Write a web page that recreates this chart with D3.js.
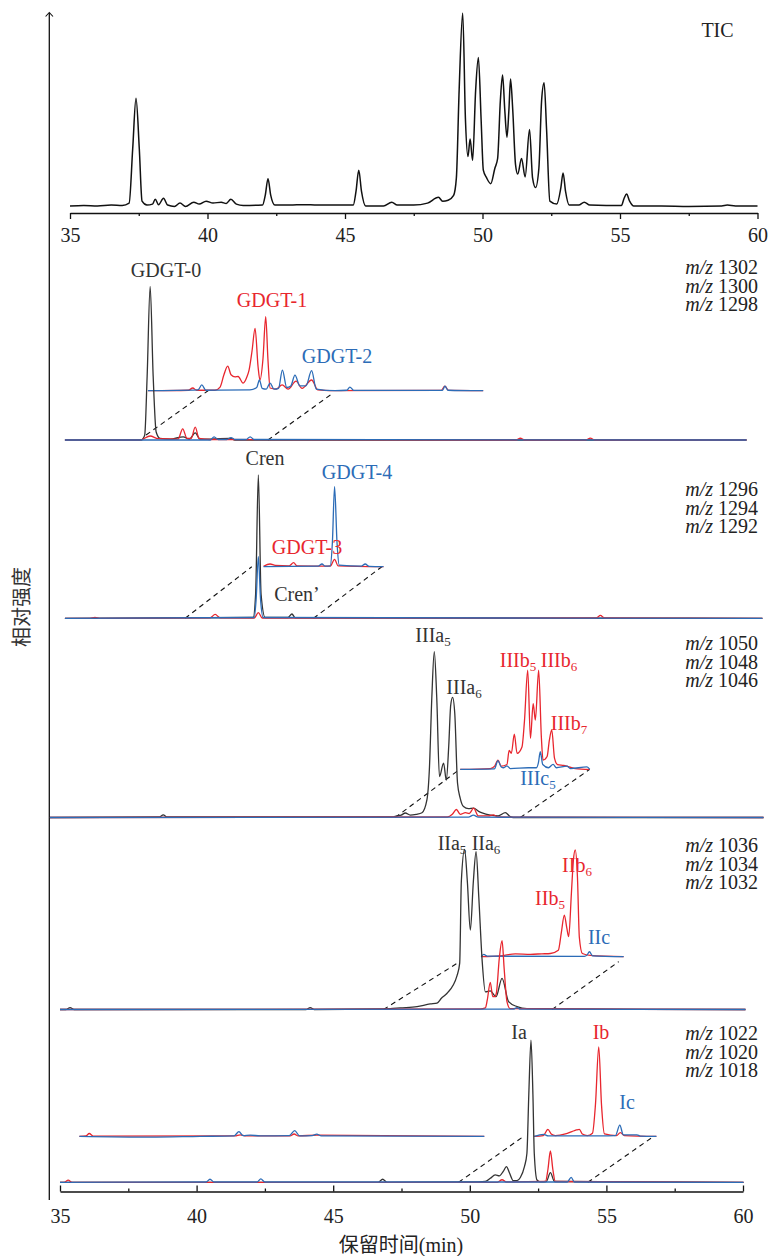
<!DOCTYPE html>
<html>
<head>
<meta charset="utf-8">
<script src="https://cdn.jsdelivr.net/npm/d3@7"></script>
<style>
  html, body { margin: 0; padding: 0; background: #fff; }
  svg { display: block; font-family: "Liberation Serif", "Times New Roman", serif; }
  text { font-family: "Liberation Serif", "Times New Roman", "Noto Sans CJK SC", serif; fill: #222; }
</style>
</head>
<body>
<div id="chart"></div>
<script>
// ---- data: [retention time (min), relative intensity] ----
const majorTicks = [35, 40, 45, 50, 55, 60];
const minorTicks = [37.5, 42.5, 47.5, 52.5, 57.5];

const tic = [
  [35.0,0.5],[35.5,0.8],[36.0,0.5],[36.5,1],[36.9,0.8],[37.15,2],[37.28,30],[37.4,56],[37.52,30],[37.62,3],
  [37.8,1],[38.0,1.5],[38.1,4],[38.22,1.2],[38.4,4.5],[38.55,1],[38.8,0.3],[39.0,2],[39.2,0.3],[39.5,2.5],
  [39.7,1.5],[39.95,3],[40.2,2],[40.5,2.5],[40.68,1.8],[40.85,4],[41.05,1.5],[41.3,0.8],[42.0,1],[42.1,6],
  [42.2,14.5],[42.3,6],[42.45,1],[43.0,1],[43.5,1.2],[44.0,1],[45.3,1],[45.4,8],[45.5,19],[45.6,8],
  [45.75,0.5],[46.4,0.5],[46.7,2.5],[46.9,1],[47.5,1],[48.0,2],[48.4,5],[48.55,3],[48.75,3.5],[48.95,6],
  [49.05,15],[49.15,60],[49.28,100],[49.38,45],[49.47,26],[49.55,35],[49.64,24],[49.75,60],[49.85,77],[49.95,45],
  [50.03,19],[50.15,15],[50.3,12],[50.45,20],[50.55,25],[50.65,55],[50.73,68],[50.81,50],[50.89,36],[50.96,50],
  [51.02,66],[51.1,50],[51.2,22],[51.28,17],[51.42,25],[51.55,15.5],[51.71,40],[51.82,15],[51.93,10],[52.05,20],
  [52.15,55],[52.24,64],[52.33,40],[52.45,3],[52.7,1.5],[52.85,10],[52.93,17.5],[53.02,8],[53.15,1],[53.5,1],
  [53.7,2.5],[53.9,1],[54.5,0.8],[55.05,0.8],[55.15,4.5],[55.24,6.7],[55.35,3],[55.5,0.5],[56.5,0.5],[57.5,0.3],
  [58.7,0.5],[58.9,1],[59.2,0.5],[60,0.5]
];

// m/z 1302 / 1300 / 1298
const mzGdgt012 = ['1302', '1300', '1298'];
const gdgt0 = [[35.18,0],[37.97,0],[38.1,3],[38.19,40],[38.3,96],[38.41,40],[38.52,5],[38.66,1],[39.03,0.5],
  [39.51,2],[39.73,0.5],[39.95,4.4],[40.13,0.5],[41.23,1],[41.4,0],[60.13,0]];
const gdgt1 = [[35.18,0],[37.93,0],[38.3,2.5],[38.59,0.8],[39.32,0.5],[39.49,7],[39.65,1],[39.8,1],[39.95,8],
  [40.09,1],[40.49,0.3],[51.7,0],[51.85,1.1],[52.0,0],[54.25,0],[54.41,1.2],[54.57,0],[60.13,0]];
const gdgt2 = [[35.18,0],[40.5,0],[40.64,2],[40.79,0.3],[41.1,0.3],[41.26,1.5],[41.41,0.3],[41.81,0.3],
  [41.96,2],[42.1,0.3],[60.13,0]];
const gdgt1Inset = [[38.22,0],[39.7,0.3],[39.86,1.7],[40.0,0.3],[40.67,0.3],[40.86,2.3],[41.0,10],[41.14,15.4],
  [41.26,10],[41.41,8.7],[41.52,8.9],[41.7,4.8],[41.85,9],[41.92,12.9],[42.03,25],[42.14,39],[42.25,15],[42.32,6.7],
  [42.43,20],[42.53,46.3],[42.61,20],[42.69,1.7],[42.91,1],[43.13,3.6],[43.35,1],[43.64,6],[43.86,1.5],[44.21,6.7],
  [44.44,0.5],[44.88,0],[48.95,0.2],[49.09,2.9],[49.22,0.2],[50.49,0]];
const gdgt2Inset = [[38.22,0],[40.05,0.5],[40.19,3.6],[40.34,0.3],[41.95,0.5],[42.2,2],[42.3,6.7],[42.4,1.5],
  [42.55,1],[42.69,4.8],[42.83,1],[43.0,1.5],[43.14,12.9],[43.3,2],[43.45,3],[43.6,9.8],[43.78,3],[44.0,3],
  [44.21,12.5],[44.38,1],[45.07,0],[45.5,0.3],[45.61,2.3],[45.75,0.2],[49.0,0.3],[49.09,2.9],[49.2,0.3],[50.49,0]];
const dashGdgt012 = [[[38.15,3.1],[40.42,30.8]], [[42.61,0],[45.0,29.4]]];

// m/z 1296 / 1294 / 1292
const mzGdgt34 = ['1296', '1294', '1292'];
const cren = [[35.18,0],[42.07,0.5],[42.16,15],[42.26,89.6],[42.36,15],[42.51,0.5],[43.35,0.5],[43.49,2.7],
  [43.61,0.3],[60.71,0]];
const gdgt3 = [[35.18,0],[36.1,0],[36.28,0.6],[36.45,0],[40.49,0.3],[40.68,2.4],[40.86,0.3],[42.11,0.2],[42.26,3.5],
  [42.4,0.2],[54.63,0.2],[54.78,1.8],[54.93,0.2],[60.71,0]];
const crenPrime = [[35.18,0],[42.11,0.5],[42.18,12],[42.26,38.5],[42.34,12],[42.44,0.5],[60.71,0]];
const gdgt3Inset = [[42.45,0.3],[42.69,1.7],[42.88,0.8],[43.39,0.5],[43.55,2.5],[43.68,0.5],[44.89,0.3],
  [45.05,4.6],[45.18,0.5],[46.84,0]];
const gdgt4Inset = [[42.45,0],[44.45,0.3],[44.59,1.7],[44.71,0.3],[44.89,0.5],[44.97,15],[45.05,50],[45.14,15],
  [45.22,1],[46.03,0.3],[46.17,1.7],[46.32,0.2],[46.84,0]];
const dashGdgt34 = [[[39.58,0],[42.02,32.25]], [[44.28,0],[46.78,32.25]]];

// m/z 1050 / 1048 / 1046
const mzIII = ['1050', '1048', '1046'];
const IIIa = [[34.63,0],[38.63,0.3],[38.78,1.7],[38.92,0.3],[47.16,0.3],[47.33,1],[47.49,1.5],[47.64,2.8],
  [47.82,1.5],[48.04,2],[48.25,3],[48.43,11],[48.52,30],[48.61,75],[48.7,103.6],[48.79,75],[48.89,25.5],
  [49.04,34],[49.14,23.4],[49.23,45],[49.3,70],[49.37,75.1],[49.45,65],[49.55,21.6],[49.65,12],[49.77,6.8],
  [49.95,5.5],[50.14,5.8],[50.31,4],[50.45,2.9],[50.75,1.5],[51.04,1],[51.3,3],[51.48,0.5],[51.59,0],[60.75,0]];
const IIIb = [[34.63,0],[49.18,0.3],[49.36,2],[49.51,5],[49.65,2],[49.84,3],[49.98,2.5],[50.14,5.8],[50.31,1],
  [50.68,1],[50.86,1.6],[51.04,0.3],[60.75,0]];
const IIIc = [[34.63,0],[49.95,0.2],[50.13,1.5],[50.31,0.2],[60.75,0]];
const IIIbInset = [[49.65,0],[50.75,0.5],[50.91,2],[51.03,5.8],[51.15,2],[51.36,3],[51.44,11.8],[51.52,10],
  [51.63,22],[51.73,10],[51.91,14],[52.0,30],[52.12,62],[52.22,19.4],[52.32,41],[52.4,30.8],[52.52,62],
  [52.62,20],[52.68,5.8],[52.83,8],[52.91,18],[53.0,24.6],[53.1,7],[53.21,3],[53.44,2.5],[53.86,0.5],[54.39,0]];
const IIIcInset = [[49.65,0],[50.9,0.3],[51.03,5.4],[51.15,1.5],[51.24,1],[51.36,2.2],[51.48,0.5],[52.14,1],
  [52.44,1],[52.51,4],[52.58,11],[52.67,3],[52.88,1],[53.05,3.1],[53.17,1],[53.56,2],[53.68,0.5],[54.29,1.5],[54.39,0]];
const dashIII = [[[47.27,0],[49.63,30.1]], [[51.85,0],[54.39,30.1]]];

// m/z 1036 / 1034 / 1032
const mzII = ['1036', '1034', '1032'];
const IIa = [[35.0,0],[35.22,0],[35.37,1.2],[35.51,0],[44.01,0],[44.16,1.2],[44.3,0],[46.72,0.3],[47.09,0.5],
  [47.45,1],[48.07,1.8],[48.55,3.5],[48.8,4],[48.96,7],[49.16,10],[49.53,21],[49.63,29],[49.69,80],[49.81,100],
  [49.91,80],[50.02,49.6],[50.13,80],[50.23,98.6],[50.33,70],[50.45,31],[50.57,11],[50.75,11.6],[50.96,8],
  [51.18,19.5],[51.42,4.9],[51.73,1.8],[52.09,0.5],[60.09,0]];
const IIb = [[35.0,0],[50.38,0.3],[50.57,1],[50.64,6],[50.75,17],[50.84,8],[50.91,8],[50.97,10],[51.08,32],
  [51.18,43],[51.26,25],[51.36,4.9],[51.48,0.5],[60.09,0]];
const IIc = [[35.0,0],[51.59,0.2],[51.73,1.2],[51.85,0.2],[60.09,0]];
const IIbInset = [[50.42,0],[51.12,0.5],[51.67,1.8],[52.22,1.5],[52.64,1.8],[52.95,2],[53.24,4],[53.35,15],
  [53.46,26],[53.55,18],[53.62,12.5],[53.72,40],[53.79,60],[53.86,66.7],[53.94,50],[54.01,12],[54.12,2],
  [54.41,0.8],[55.63,0]];
const IIcInset = [[50.42,0],[50.51,1.5],[50.64,0.3],[54.19,0.2],[54.29,1],[54.38,3.1],[54.49,0.5],[55.63,0]];
const dashII = [[[46.84,0],[49.53,28.8]], [[53.01,0],[55.45,29.9]]];

// m/z 1022 / 1020 / 1018
const mzI = ['1022', '1020', '1018'];
const Ia = [[35.0,0],[46.65,0],[46.81,1.9],[46.97,0],[50.31,0.3],[50.57,0.5],[50.75,2.5],[50.93,4.6],[51.08,4],
  [51.23,7],[51.34,9.8],[51.45,6],[51.59,1],[51.73,1],[51.85,3],[52.0,9.8],[52.09,18],[52.16,55],[52.24,88.9],
  [52.31,55],[52.36,18],[52.46,1.4],[52.58,0.3],[52.8,0.5],[52.95,6],[53.1,0.5],[60.02,0]];
const Ib = [[35.0,0],[35.15,0],[35.3,1.3],[35.44,0],[51.01,0],[51.18,1.6],[51.34,0.2],[52.77,0.5],[52.86,8],
  [52.95,19.6],[53.04,8],[53.13,0.5],[60.02,0]];
const Ic = [[35.0,0],[40.35,0.2],[40.49,1.9],[40.64,0.2],[42.22,0.2],[42.35,2.1],[42.5,0.2],[53.57,0.2],
  [53.71,3.1],[53.83,0.2],[60.02,0]];
const IbInsetLeft = [[35.71,0],[35.95,0.3],[36.07,1.8],[36.21,0.2],[41.41,0.3],[41.59,1],[41.81,0.3],[43.42,0.3],
  [43.57,1.5],[43.72,0.3],[44.4,0.8],[50.53,0]];
const IcInsetLeft = [[35.71,0],[38.3,-0.5],[40.13,0],[41.37,0.3],[41.55,3],[41.7,0.5],[41.96,0.8],[42.33,0.3],
  [43.39,0.5],[43.59,3.6],[43.77,0.3],[44.23,0.5],[44.4,1.4],[44.56,0.3],[50.53,0]];
const IbInsetRight = [[52.36,0],[52.69,0.5],[52.86,4.4],[52.98,1.5],[53.13,0.5],[53.5,1.5],[53.74,3],[53.9,4],
  [54.01,4.4],[54.12,1.5],[54.3,0.5],[54.49,2],[54.6,20],[54.72,56],[54.82,20],[54.93,1.5],[55.37,0.5],
  [55.51,2.3],[55.66,0.5],[56.83,0]];
const IcInsetRight = [[52.36,0],[52.7,1.3],[52.87,0.3],[54.78,0.3],[55.33,0.5],[55.49,7],[55.62,1],[56.12,1],
  [56.24,0.2],[56.83,0]];
const dashI = [[[49.59,0],[51.97,28.7]], [[54.32,0],[56.73,28.7]]];

// ---- layout ----
const W = 769, H = 1256;
const RED = '#e8262e', BLUE = '#2c6cb7', DARK = '#333';
const SERIF = '"Liberation Serif", "Times New Roman", serif';

const svg = d3.select('#chart').append('svg').attr('width', W).attr('height', H);

const xTop = d3.scaleLinear().domain([35, 60]).range([70, 757.5]);
const yTop = d3.scaleLinear().domain([0, 100]).range([207, 13]);
const xBot = d3.scaleLinear().domain([35, 60]).range([60, 743]);

const makeLine = (x, y) => d3.line()
  .x(d => x(d[0]))
  .y(d => y(d[1]))
  .curve(d3.curveMonotoneX);

// left axis with arrow
svg.append('line')
  .attr('x1', 49.3).attr('x2', 49.3).attr('y1', 1200).attr('y2', 13)
  .attr('stroke', '#111').attr('stroke-width', 1.3);
svg.append('path')
  .attr('d', 'M45.6,16.5L49.3,12.5L53,16.5')
  .attr('fill', 'none').attr('stroke', '#111').attr('stroke-width', 1.1);

svg.append('text')
  .attr('transform', 'translate(20,607) rotate(-90)')
  .attr('text-anchor', 'middle')
  .attr('dominant-baseline', 'central')
  .style('font-family', '"Noto Sans CJK SC", sans-serif')
  .style('font-size', '20px')
  .style('fill', '#333')
  .text('相对强度');

// axis helper
function drawAxis(scale, y, dir) {
  const major = (dir > 0 ? d3.axisBottom(scale).tickSize(6).tickPadding(8.8)
                         : d3.axisBottom(scale).tickSize(-6).tickPadding(17.3))
    .tickValues(majorTicks).tickSizeOuter(0).tickFormat(d3.format('d'));
  const minor = d3.axisBottom(scale).tickValues(minorTicks)
    .tickSize(dir > 0 ? 3 : -3).tickSizeOuter(0).tickFormat('');
  const g = svg.append('g').attr('transform', `translate(0,${y})`);
  g.call(major);
  g.append('g').call(minor).select('.domain').remove();
  g.attr('font-family', null);
  g.selectAll('path, line').attr('stroke', '#111').attr('stroke-width', 1.3);
  g.selectAll('text').style('font-size', '20px').style('fill', '#222')
    .style('font-family', SERIF);
}

// TIC panel
drawAxis(xTop, 213, 1);
svg.append('path')
  .datum(tic)
  .attr('d', makeLine(xTop, yTop))
  .attr('fill', 'none').attr('stroke', '#111').attr('stroke-width', 1.5);
svg.append('text').attr('x', 717.5).attr('y', 37).attr('text-anchor', 'middle')
  .style('font-size', '20px').text('TIC');

// lower panels
const panels = [
  { base: 440, mz: mzGdgt012, mzY: 274, main: [gdgt0, gdgt1, gdgt2], level: 30.8,
    insetRed: [gdgt1Inset], insetBlue: [gdgt2Inset], dash: dashGdgt012 },
  { base: 618.3, mz: mzGdgt34, mzY: 496, main: [cren, gdgt3, crenPrime], level: 32.25,
    insetRed: [gdgt3Inset], insetBlue: [gdgt4Inset], dash: dashGdgt34 },
  { base: 817.5, mz: mzIII, mzY: 650, main: [IIIa, IIIb, IIIc], level: 30.1,
    insetRed: [IIIbInset], insetBlue: [IIIcInset], dash: dashIII },
  { base: 1009.5, mz: mzII, mzY: 852, main: [IIa, IIb, IIc], level: 33,
    insetRed: [IIbInset], insetBlue: [IIcInset], dash: dashII },
  { base: 1182.3, mz: mzI, mzY: 1040, main: [Ia, Ib, Ic], level: 28.7,
    insetRed: [IbInsetLeft, IbInsetRight], insetBlue: [IcInsetLeft, IcInsetRight], dash: dashI }
];

panels.forEach(p => {
  const y = d3.scaleLinear().domain([0, 100]).range([p.base, p.base - 160]);
  const yIn = d3.scaleLinear().domain([-p.level, 100 - p.level]).range([p.base, p.base - 160]);
  const g = svg.append('g');

  g.selectAll('.dash').data(p.dash).enter().append('path')
    .attr('d', makeLine(xBot, y).curve(d3.curveLinear))
    .attr('fill', 'none').attr('stroke', '#111').attr('stroke-width', 1.1)
    .attr('stroke-dasharray', '5,4');

  const inLine = makeLine(xBot, yIn);
  g.selectAll('.inR').data(p.insetRed).enter().append('path')
    .attr('d', inLine).attr('fill', 'none').attr('stroke', RED).attr('stroke-width', 1.3);
  g.selectAll('.inB').data(p.insetBlue).enter().append('path')
    .attr('d', inLine).attr('fill', 'none').attr('stroke', BLUE).attr('stroke-width', 1.3);

  const mainLine = makeLine(xBot, y);
  [[p.main[0], DARK], [p.main[1], RED], [p.main[2], BLUE]].forEach(([d, c]) => {
    g.append('path').datum(d).attr('d', mainLine)
      .attr('fill', 'none').attr('stroke', c).attr('stroke-width', 1.3);
  });

  p.mz.forEach((m, i) => {
    const t = g.append('text').attr('x', 758).attr('y', p.mzY + i * 18.5)
      .attr('text-anchor', 'end').style('font-size', '20px');
    t.append('tspan').style('font-style', 'italic').text('m/z');
    t.append('tspan').text(' ' + m);
  });
});

drawAxis(xBot, 1191.5, -1);
svg.append('text').attr('x', 401).attr('y', 1252).attr('text-anchor', 'middle')
  .style('font-size', '20px').text('保留时间(min)');

// peak labels
const peakLabels = [
  { txt: 'GDGT-0', x: 166, y: 277, c: DARK },
  { txt: 'GDGT-1', x: 272, y: 307, c: RED },
  { txt: 'GDGT-2', x: 337, y: 363, c: BLUE },
  { txt: 'Cren', x: 265, y: 465, c: DARK },
  { txt: 'GDGT-4', x: 357, y: 479, c: BLUE },
  { txt: 'GDGT-3', x: 307, y: 554, c: RED },
  { txt: 'Cren’', x: 297, y: 601, c: DARK },
  { txt: 'IIIa', sub: '5', x: 433, y: 642, c: DARK },
  { txt: 'IIIa', sub: '6', x: 464, y: 694, c: DARK },
  { txt: 'IIIb', sub: '5', x: 518, y: 667, c: RED },
  { txt: 'IIIb', sub: '6', x: 559, y: 667, c: RED },
  { txt: 'IIIb', sub: '7', x: 569, y: 730, c: RED },
  { txt: 'IIIc', sub: '5', x: 538, y: 785, c: BLUE },
  { txt: 'IIa', sub: '5', x: 452, y: 850, c: DARK },
  { txt: 'IIa', sub: '6', x: 486, y: 850, c: DARK },
  { txt: 'IIb', sub: '6', x: 577, y: 872, c: RED },
  { txt: 'IIb', sub: '5', x: 550, y: 905, c: RED },
  { txt: 'IIc', x: 599, y: 944, c: BLUE },
  { txt: 'Ia', x: 519, y: 1039, c: DARK },
  { txt: 'Ib', x: 601, y: 1039, c: RED },
  { txt: 'Ic', x: 627, y: 1109, c: BLUE }
];

peakLabels.forEach(l => {
  const t = svg.append('text').attr('x', l.x).attr('y', l.y)
    .attr('text-anchor', 'middle').style('font-size', '20px').style('fill', l.c);
  t.append('tspan').text(l.txt);
  if (l.sub) {
    t.append('tspan').attr('dy', 4).style('font-size', '13px').text(l.sub);
  }
});
</script>
</body>
</html>
